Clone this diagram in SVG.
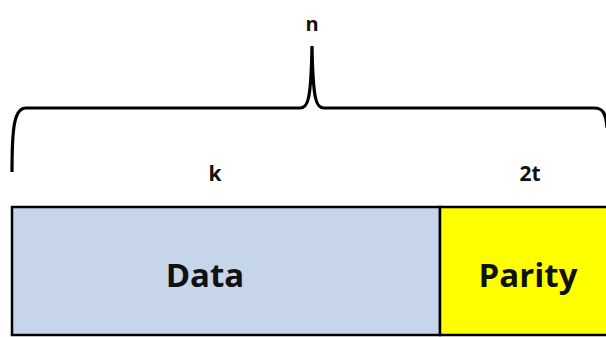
<svg xmlns="http://www.w3.org/2000/svg" width="606" height="337" viewBox="0 0 606 337">
<style>
.lbl{font-family:"Open Sans","Liberation Sans",sans-serif;font-weight:bold;fill:#111;text-anchor:middle}
.box{stroke:#000;stroke-width:2.5}
</style>
<rect width="606" height="337" fill="#fff"/>
<g id="connectors">
<path d="M 12 172 C 12 128, 14 108, 26 108 L 300 108 C 308 108, 311 100, 312 46 C 313 100, 316 108, 324 108 L 594 108 C 602 108, 606 112, 607 128" fill="none" stroke="#000" stroke-width="3.2"/>
</g>
<g id="label-n"><text class="lbl" x="312" y="31" font-size="20">n</text></g>
<g id="label-k"><text class="lbl" x="215" y="181" font-size="21">k</text></g>
<g id="label-2t"><text class="lbl" x="530" y="181" font-size="21">2t</text></g>
<g id="data">
<rect class="box" x="12" y="207" width="428" height="128" fill="#c6d5ea"/>
<text class="lbl" x="205" y="287" font-size="33">Data</text>
</g>
<g id="parity">
<rect class="box" x="440" y="207" width="170" height="128" fill="#ffff00"/>
<text class="lbl" x="528" y="287" font-size="33">Parity</text>
</g>
</svg>
